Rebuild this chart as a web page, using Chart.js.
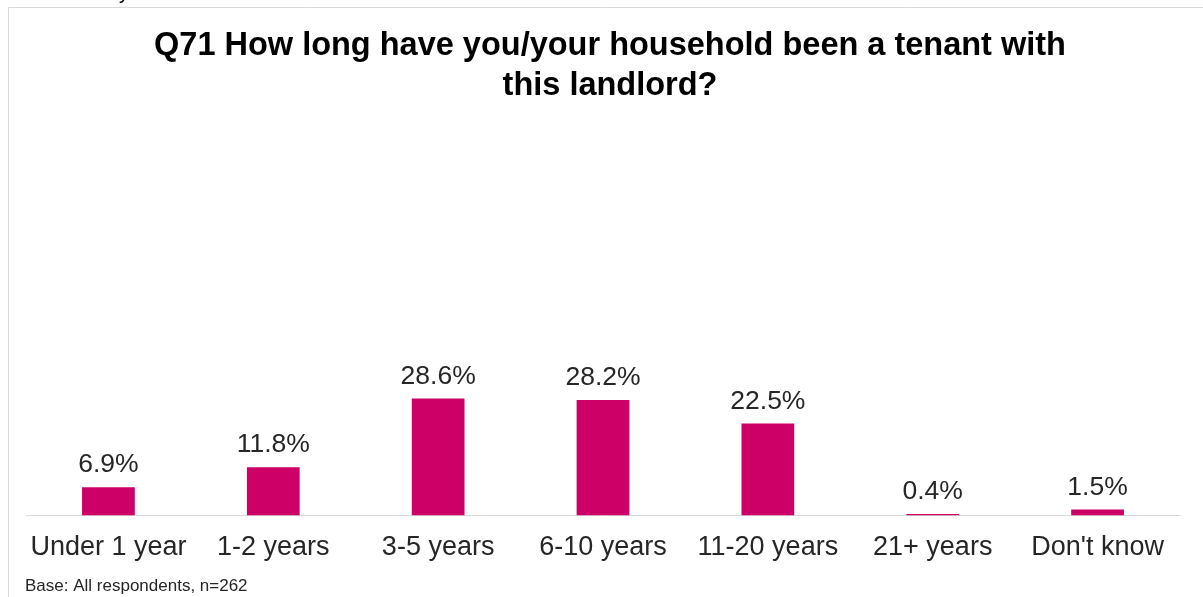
<!DOCTYPE html>
<html>
<head>
<meta charset="utf-8">
<script src="https://cdn.jsdelivr.net/npm/chart.js@4"></script>
<style>
	html, body { margin: 0; padding: 0; background: #fff; }
	#wrap { width: 1203px; height: 597px; position: relative; }
</style>
</head>
<body>
<div id="wrap"><canvas id="tenure-chart"></canvas></div>
<script>
const categories = ['Under 1 year', '1-2 years', '3-5 years', '6-10 years', '11-20 years', '21+ years', "Don't know"];
const percentages = [6.9, 11.8, 28.6, 28.2, 22.5, 0.4, 1.5];
const titleLines = ['Q71 How long have you/your household been a tenant with', 'this landlord?'];
const footnote = 'Base: All respondents, n=262';

// frame, title, footnote and value labels
const extras = {
	id: 'extras',
	beforeDraw(chart) {
		const ctx = chart.ctx;
		ctx.save();
		ctx.strokeStyle = '#d9d9d9';
		ctx.lineWidth = 1;
		ctx.beginPath();
		ctx.moveTo(8.5, 597);
		ctx.lineTo(8.5, 7.5);
		ctx.lineTo(1203, 7.5);
		ctx.stroke();
		// cut-off text above the frame
		ctx.fillStyle = '#000';
		ctx.font = '20px "Liberation Sans", Arial, sans-serif';
		ctx.textBaseline = 'alphabetic';
		ctx.fillText('y', 119, -1);
		// title
		ctx.font = 'bold 32.5px "Liberation Sans", Arial, sans-serif';
		ctx.textAlign = 'center';
		ctx.textBaseline = 'middle';
		titleLines.forEach((line, i) => ctx.fillText(line, 610, 46 + i * 40));
		ctx.restore();
	},
	afterDatasetsDraw(chart) {
		const ctx = chart.ctx;
		const meta = chart.getDatasetMeta(0);
		ctx.save();
		ctx.fillStyle = '#262626';
		ctx.font = '26.5px "Liberation Sans", Arial, sans-serif';
		ctx.textAlign = 'center';
		ctx.textBaseline = 'bottom';
		meta.data.forEach((bar, i) => {
			ctx.fillText(percentages[i].toFixed(1) + '%', bar.x, bar.y - 9);
		});
		ctx.font = '17px "Liberation Sans", Arial, sans-serif';
		ctx.textAlign = 'left';
		ctx.textBaseline = 'middle';
		ctx.fillText(footnote, 25, 586);
		ctx.restore();
	}
};

new Chart(document.getElementById('tenure-chart').getContext('2d'), {
	type: 'bar',
	data: {
		labels: categories,
		datasets: [{
			data: percentages,
			backgroundColor: '#cc0066',
			borderWidth: 0,
			categoryPercentage: 1,
			barPercentage: 0.32,
		}]
	},
	options: {
		responsive: true,
		maintainAspectRatio: false,
		animation: false,
		layout: {
			padding: { left: 26, right: 23, top: 106, bottom: 17 }
		},
		scales: {
			x: {
				grid: { display: false, drawTicks: false },
				border: { color: '#d9d9d9', width: 1 },
				ticks: {
					color: '#262626',
					padding: 16,
					maxRotation: 0,
					autoSkip: false,
					font: { family: '"Liberation Sans", Arial, sans-serif', size: 27 }
				}
			},
			y: {
				display: false,
				min: 0,
				max: 100,
			}
		},
		plugins: {
			legend: { display: false },
			tooltip: { enabled: false },
			title: { display: false }
		}
	},
	plugins: [extras]
});
</script>
</body>
</html>
